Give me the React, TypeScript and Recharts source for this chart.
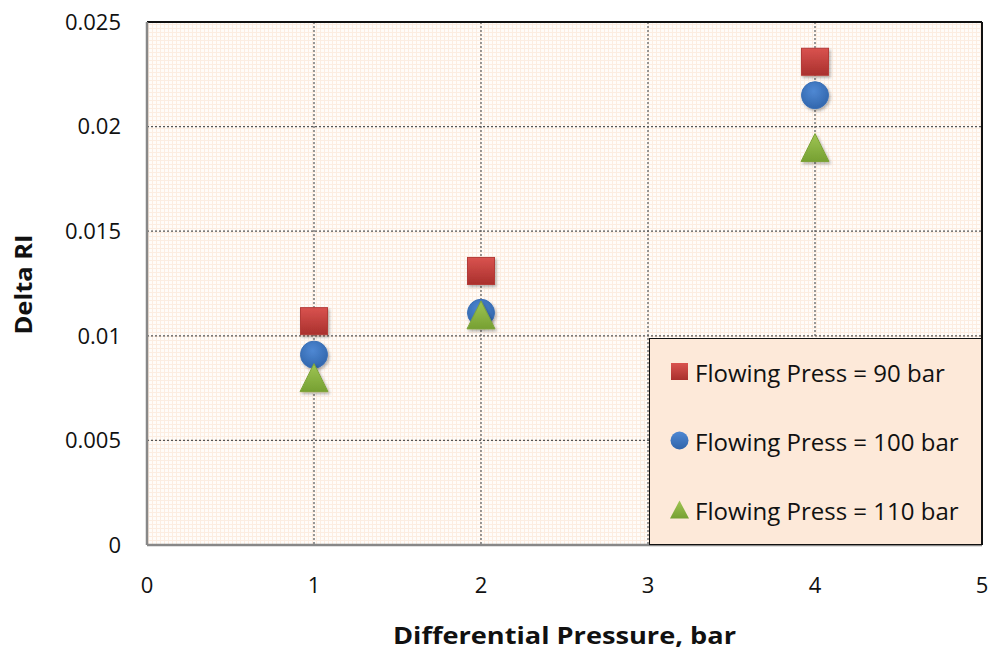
import React from 'react';
import {
  ScatterChart, Scatter, XAxis, YAxis, CartesianGrid, ReferenceLine,
} from 'recharts';

const xValues = [1, 2, 4];
const press90 = [0.0107, 0.0131, 0.0231];
const press100 = [0.0091, 0.0111, 0.0215];
const press110 = [0.0080, 0.0110, 0.0190];
const xTicks = [0, 1, 2, 3, 4, 5];
const yTicks = [0, 0.005, 0.01, 0.015, 0.02, 0.025];
const seriesNames = ['Flowing Press = 90 bar', 'Flowing Press = 100 bar', 'Flowing Press = 110 bar'];
const xTitle = 'Differential Pressure, bar';
const yTitle = 'Delta RI';

const toPoints = (ys: number[]) => xValues.map((x, i) => ({ x, y: ys[i] }));
const d90 = toPoints(press90);
const d100 = toPoints(press100);
const d110 = toPoints(press110);

const FONT = '"Open Sans", Lato, sans-serif';
const M = 27;

const Square = (p: any) => {
  const { cx, cy } = p;
  if (cx == null || cy == null) return null;
  return (
    <rect x={cx - M / 2} y={cy - M / 2} width={M} height={M}
      fill="url(#gRed)" stroke="#b33a37" strokeWidth={1} filter="url(#shadow)" />
  );
};
const Circle = (p: any) => {
  const { cx, cy } = p;
  if (cx == null || cy == null) return null;
  return <circle cx={cx} cy={cy} r={M / 2} fill="url(#gBlue)" stroke="#3a6fb5" strokeWidth={1} filter="url(#shadow)" />;
};
const Triangle = (p: any) => {
  const { cx, cy } = p;
  if (cx == null || cy == null) return null;
  const h = M + 1;
  const w = M + 1;
  return (
    <path d={`M${cx},${cy - h / 2} L${cx + w / 2},${cy + h / 2} L${cx - w / 2},${cy + h / 2} Z`}
      fill="url(#gGreen)" stroke="#7ea33a" strokeWidth={1} filter="url(#shadow)" />
  );
};

const XTitle = (props: any) => {
  const vb = props.viewBox || {};
  const cx = vb.x + vb.width / 2;
  const y = vb.y + vb.height - 12;
  return (
    <text x={cx} y={y} textAnchor="middle" fill="#111" fontSize={23} fontWeight={700} fontFamily={FONT}
      textLength={343} lengthAdjust="spacingAndGlyphs">{xTitle}</text>
  );
};
const YTitle = (props: any) => {
  const vb = props.viewBox || {};
  const cy = vb.y + vb.height / 2 + 1;
  const x = 32;
  return (
    <text x={x} y={cy} transform={`rotate(-90, ${x}, ${cy})`} textAnchor="middle" fill="#111" fontSize={24} fontWeight={700} fontFamily={FONT}
      textLength={100} lengthAdjust="spacingAndGlyphs">{yTitle}</text>
  );
};

const LegendBox = () => {
  const items = [
    { name: seriesNames[0], icon: <rect x={1} y={1} width={17} height={17} fill="url(#lgRed)" /> },
    { name: seriesNames[1], icon: <circle cx={9.5} cy={9.5} r={9} fill="url(#lgBlue)" /> },
    { name: seriesNames[2], icon: <path d="M9.5,0.5 L19,18.5 L0,18.5 Z" fill="url(#lgGreen)" /> },
  ];
  return (
    <div style={{
      position: 'absolute', left: 649, top: 338, width: 333, height: 207,
      background: '#fde9d9', border: '1.5px solid #111',
      boxSizing: 'border-box', fontFamily: FONT, fontSize: 24, color: '#111',
    }}>
      <svg width={0} height={0} style={{ position: 'absolute' }}>
        <defs>
          <linearGradient id="lgRed" x1="0" y1="0" x2="0" y2="1">
            <stop offset="0" stopColor="#d9534f" /><stop offset="1" stopColor="#a9302d" />
          </linearGradient>
          <linearGradient id="lgBlue" x1="0" y1="0" x2="0" y2="1">
            <stop offset="0" stopColor="#4f88d3" /><stop offset="1" stopColor="#2f64aa" />
          </linearGradient>
          <linearGradient id="lgGreen" x1="0" y1="0" x2="0" y2="1">
            <stop offset="0" stopColor="#9fc553" /><stop offset="1" stopColor="#76a032" />
          </linearGradient>
        </defs>
      </svg>
      {items.map((it, i) => (
        <div key={i} style={{ position: 'absolute', left: 20, top: 17 + i * 69, height: 32, display: 'flex', alignItems: 'center', whiteSpace: 'nowrap' }}>
          <svg width={20} height={20} style={{ marginRight: 5 }}>{it.icon}</svg>
          <span>{it.name}</span>
        </div>
      ))}
    </div>
  );
};

export default function App() {
  return (
    <div style={{ position: 'absolute', left: 0, top: 0, width: 991, height: 656, background: '#fff' }}>
      <ScatterChart width={991} height={656} margin={{ top: 22, right: 9, bottom: 0, left: 0 }}>
        <defs>
          <pattern id="bgpat" width="4" height="4" patternUnits="userSpaceOnUse">
            <rect width="4" height="4" fill="#fffcf9" />
            <path d="M0,0.5 H4 M0.5,0 V4" stroke="#fcede1" strokeWidth={1} />
          </pattern>
          <filter id="shadow" x="-30%" y="-30%" width="170%" height="170%">
            <feDropShadow dx="1.5" dy="2" stdDeviation="1.5" floodColor="#000" floodOpacity="0.3" />
          </filter>
          <linearGradient id="gRed" x1="0" y1="0" x2="0" y2="1">
            <stop offset="0" stopColor="#d9534f" /><stop offset="1" stopColor="#a9302d" />
          </linearGradient>
          <radialGradient id="gBlue" cx="0.45" cy="0.35" r="0.7">
            <stop offset="0" stopColor="#4f88d3" /><stop offset="1" stopColor="#2f64aa" />
          </radialGradient>
          <linearGradient id="gGreen" x1="0" y1="0" x2="0" y2="1">
            <stop offset="0" stopColor="#9fc553" /><stop offset="1" stopColor="#76a032" />
          </linearGradient>
        </defs>
        <CartesianGrid fill="url(#bgpat)" stroke="#555" strokeDasharray="2 2" strokeWidth={1.2} />
        <XAxis
          type="number" dataKey="x" domain={[0, 5]} ticks={xTicks} interval={0}
          tickSize={0} tickMargin={32} height={111}
          axisLine={{ stroke: '#888', strokeWidth: 2.5 }}
          tick={{ fill: '#111', fontSize: 22, fontFamily: FONT }}
          label={<XTitle />}
        />
        <YAxis
          type="number" dataKey="y" domain={[0, 0.025]} ticks={yTicks} interval={0}
          tickSize={0} tickMargin={26} width={147}
          axisLine={{ stroke: '#888', strokeWidth: 2.5 }}
          tick={{ fill: '#111', fontSize: 22, fontFamily: FONT }}
          label={<YTitle />}
        />
        <ReferenceLine y={0.025} stroke="#111" strokeWidth={2} />
        <ReferenceLine x={5} stroke="#111" strokeWidth={2} />
        <Scatter name={seriesNames[0]} data={d90} shape={Square} isAnimationActive={false} />
        <Scatter name={seriesNames[1]} data={d100} shape={Circle} isAnimationActive={false} />
        <Scatter name={seriesNames[2]} data={d110} shape={Triangle} isAnimationActive={false} />
      </ScatterChart>
      <LegendBox />
    </div>
  );
}
